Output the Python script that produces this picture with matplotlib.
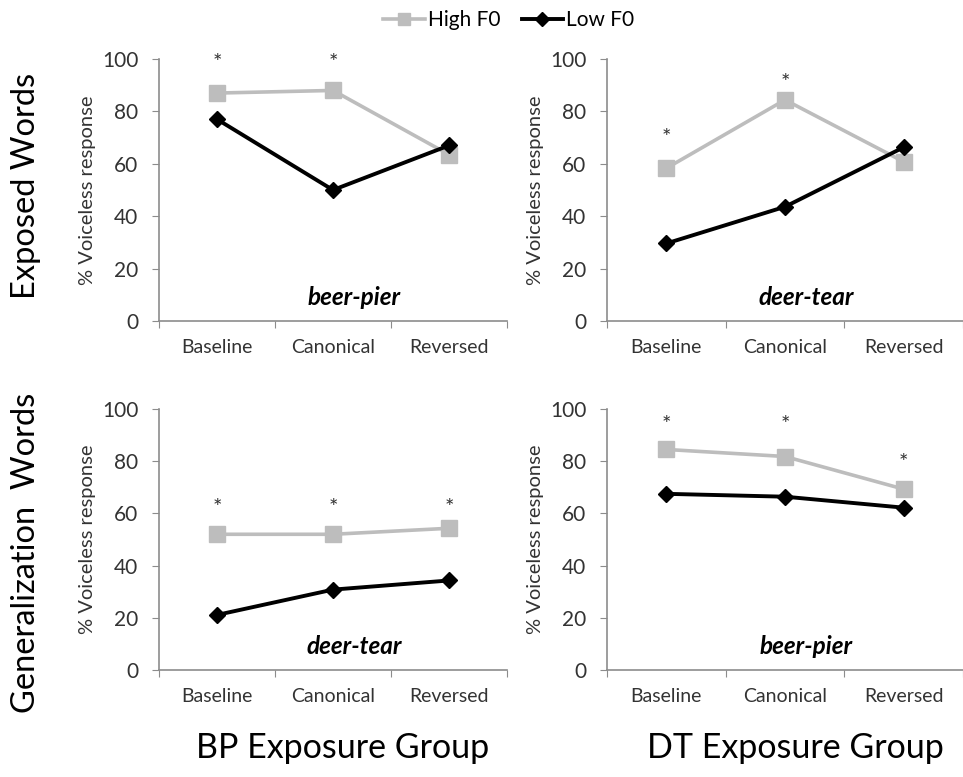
import matplotlib
matplotlib.use("Agg")
import matplotlib.pyplot as plt
from matplotlib.lines import Line2D

plt.rcParams['font.family'] = ['Lato', 'DejaVu Sans']

# data
conditions = ["Baseline", "Canonical", "Reversed"]

bp_exposed_high = [87, 88, 63.5]
bp_exposed_low = [77, 50, 67]
bp_exposed_stars = [98.5, 98.5, None]

dt_exposed_high = [58.3, 84.4, 60.8]
dt_exposed_low = [29.6, 43.6, 66.3]
dt_exposed_stars = [70, 91, None]

bp_general_high = [52, 52, 54.3]
bp_general_low = [21.1, 30.8, 34.3]
bp_general_stars = [62, 62, 62]

dt_general_high = [84.5, 81.8, 69.3]
dt_general_low = [67.5, 66.4, 62.2]
dt_general_stars = [94, 94, 79.5]

word_labels = ["beer-pier", "deer-tear", "deer-tear", "beer-pier"]
row_labels = ["Exposed Words", "Generalization  Words"]
group_labels = ["BP Exposure Group", "DT Exposure Group"]

high_color = "#bdbdbd"
low_color = "black"
axis_color = "#8c8c8c"
text_color = "#333333"

fig = plt.figure(figsize=(9.63, 7.77), dpi=100)
W, H = 963.0, 777.0

def make_axes(left, right, top, bottom):
    return fig.add_axes([left / W, 1 - bottom / H, (right - left) / W, (bottom - top) / H])

panels = [
    (make_axes(159, 507, 59, 321), bp_exposed_high, bp_exposed_low, bp_exposed_stars, 3.0),
    (make_axes(607, 963, 59, 321), dt_exposed_high, dt_exposed_low, dt_exposed_stars, 2.97),
    (make_axes(159, 507, 409, 670), bp_general_high, bp_general_low, bp_general_stars, 3.0),
    (make_axes(607, 963, 409, 670), dt_general_high, dt_general_low, dt_general_stars, 2.97),
]

xpos = [0.5, 1.5, 2.5]
for (ax, high, low, stars, xmax), word in zip(panels, word_labels):
    ax.plot(xpos, high, color=high_color, lw=2.6, marker="s", ms=11,
            mfc=high_color, mec=high_color, clip_on=False, zorder=3)
    ax.plot(xpos, low, color=low_color, lw=2.8, marker="D", ms=8.5,
            mfc=low_color, mec=low_color, clip_on=False, zorder=4)
    for x, s in zip(xpos, stars):
        if s is not None:
            ax.text(x, s, "*", ha="center", va="center", fontsize=16,
                    color=text_color)
    ax.text(1.68, 9, word, ha="center", va="center", fontsize=17.5,
            fontweight="bold", fontstyle="italic", color="black")
    ax.set_xlim(0, xmax)
    ax.set_ylim(0, 100)
    ax.set_yticks(range(0, 101, 20))
    ax.set_xticks([0, 1, 2, 3])
    ax.set_xticklabels([])
    ax.set_xticks(xpos, minor=True)
    ax.set_xticklabels(conditions, minor=True)
    ax.tick_params(axis="x", which="minor", length=0, pad=13,
                   labelsize=14, labelcolor=text_color)
    ax.tick_params(axis="x", which="major", length=5, color=axis_color)
    ax.tick_params(axis="y", length=5, color=axis_color, labelsize=15,
                   labelcolor=text_color, pad=10)
    for side in ["top", "right"]:
        ax.spines[side].set_visible(False)
    for side in ["left", "bottom"]:
        ax.spines[side].set_color(axis_color)
        ax.spines[side].set_linewidth(1.2)
    ax.set_ylabel("% Voiceless response", fontsize=14.5, color=text_color,
                  labelpad=4)
    ax.patch.set_alpha(0)

fig.text(26 / W, 1 - 186 / H, row_labels[0], rotation=90, ha="center",
         va="center", fontsize=23.5, color="black")
fig.text(26 / W, 1 - 553 / H, row_labels[1], rotation=90, ha="center",
         va="center", fontsize=23.5, color="black")
fig.text(343 / W, 1 - 748 / H, group_labels[0], ha="center", va="center",
         fontsize=24.5, color="black")
fig.text(795 / W, 1 - 748 / H, group_labels[1], ha="center", va="center",
         fontsize=24.5, color="black")

handles = [
    Line2D([], [], color=high_color, lw=2.6, marker="s", ms=9),
    Line2D([], [], color=low_color, lw=2.8, marker="D", ms=7),
]
fig.legend(handles, ["High F0", "Low F0"], loc="center",
           bbox_to_anchor=(509 / W, 1 - 20 / H), ncol=2, frameon=False,
           fontsize=15, handlelength=2.0, handletextpad=0.15,
           columnspacing=1.0, borderpad=0)

fig.savefig("out.png", dpi=100)
